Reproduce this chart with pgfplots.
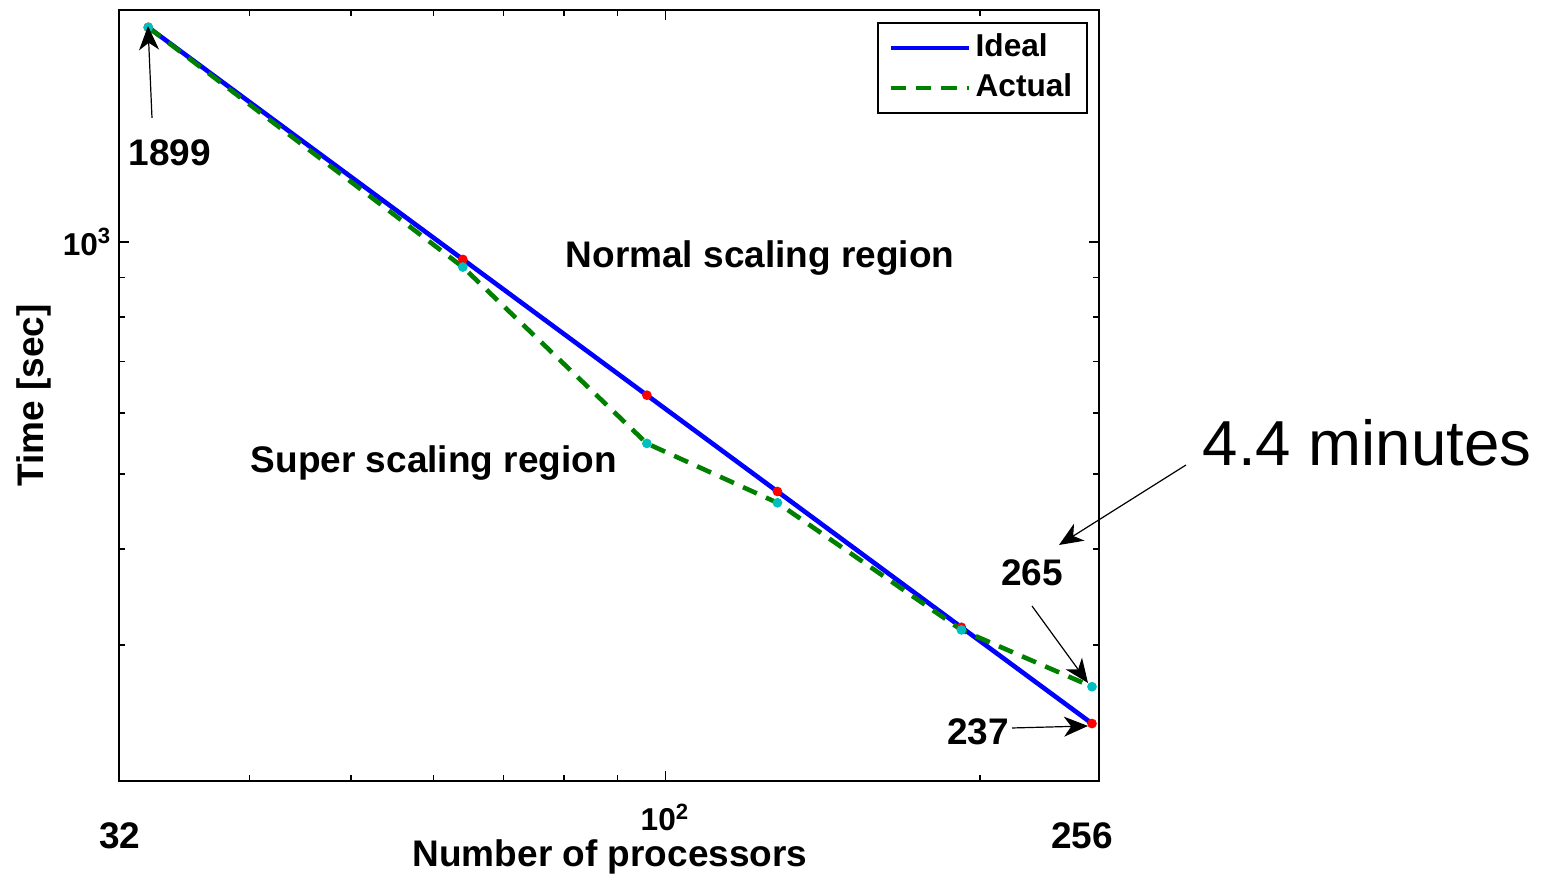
\documentclass[border=0pt]{standalone}
\usepackage{fontspec}
\setmainfont{Liberation Sans}
\usepackage{pgfplots}
\pgfplotsset{compat=1.18}
\usetikzlibrary{arrows.meta}
\definecolor{mblue}{RGB}{0,0,255}
\definecolor{mgreen}{RGB}{0,128,0}
\definecolor{mred}{RGB}{255,0,0}
\definecolor{mcyan}{RGB}{0,191,191}
\newcommand{\annfont}{\bfseries\fontsize{9.25}{11}\selectfont}
\newcommand{\axfont}{\bfseries\fontsize{7.9}{9}\selectfont}
\begin{document}
\begin{tikzpicture}
\useasboundingbox (-29.75pt,-25.75pt) rectangle (355.75pt,195.25pt);
\begin{axis}[
  at={(0,0)}, anchor=south west,
  scale only axis,
  width=245pt, height=192.75pt,
  xmode=log, ymode=log,
  xmin=30, xmax=260, ymin=200, ymax=2000,
  axis line style={line width=0.5pt},
  xtick={100}, xticklabels={10\textsuperscript{2}},
  ytick={1000}, yticklabels={10\textsuperscript{3}},
  minor xtick={40,50,60,70,80,90,200},
  minor ytick={300,400,500,600,700,800,900},
  tick align=inside, xtick pos=both, ytick pos=both,
  xticklabel pos=bottom, yticklabel pos=left,
  major tick length=2.5pt, minor tick length=1.6pt,
  every tick/.style={black, line width=0.4pt},
  ticklabel style={font=\axfont},
  xticklabel style={anchor=base, yshift=-12.5pt},
  yticklabel style={anchor=east, inner xsep=1.5pt},
  clip=false,
  legend style={at={(0.9888,0.9844)}, anchor=north east, draw=black,
    line width=0.5pt, font=\axfont, inner xsep=2.6pt, inner ysep=0.4pt,
    row sep=-1.6pt,
    nodes={inner xsep=1.1pt, inner ysep=2.2pt}},
  legend cell align=left,
  legend image code/.code={\draw[#1] (0pt,0pt) -- (19.5pt,0pt);},
]
\addplot[mblue, line width=1.15pt] coordinates {
  (32,1899) (64,949.5) (96,633) (128,474.75) (192,316.5) (256,237.4)};
\addlegendentry{Ideal}
\addplot[mgreen, line width=1.15pt, dash pattern=on 3.8pt off 2.5pt] coordinates {
  (32,1899) (64,928) (96,548) (128,459) (192,314) (256,265)};
\addlegendentry{Actual}
\addplot[only marks, mark=*, mark size=1pt, mred, forget plot] coordinates {
  (32,1899) (64,949.5) (96,633) (128,474.75) (192,316.5) (256,237.4)};
\addplot[only marks, mark=*, mark size=1pt, mcyan, forget plot] coordinates {
  (32,1899) (64,928) (96,548) (128,459) (192,314) (256,265)};
\end{axis}
\begin{scope}[x=0.25pt, y=-0.25pt, shift={(-29.75pt,195.25pt)}]
  \tikzset{ann/.style={-{Stealth[length=6pt,width=5pt,inset=1.8pt]}, line width=0.3pt, black}}
  \node[font=\annfont, anchor=base] at (170,166) {1899};
  \draw[ann] (152,118) -- (148,26);
  \node[font=\annfont, anchor=base west, inner sep=0pt] at (565,268) {Normal scaling region};
  \node[font=\annfont, anchor=base west, inner sep=0pt] at (250,473) {Super scaling region};
  \node[font=\annfont, anchor=base] at (1032,586) {265};
  \draw[ann] (1032,606) -- (1088,683);
  \node[font=\annfont, anchor=base] at (978,745) {237};
  \draw[ann] (1012,728) -- (1088,726);
  \node[font=\fontsize{15.9}{18}\selectfont, anchor=base west, inner sep=0pt] at (1202,466) {4.4 minutes};
  \draw[ann] (1186,465) -- (1059,545);
  \node[font=\annfont, anchor=base] at (120,849) {32};
  \node[font=\annfont, anchor=base] at (1082,849) {256};
  \node[font=\annfont, anchor=base] at (610,867) {Number of processors};
  \node[font=\annfont, anchor=base, rotate=90] at (43,395.5) {Time [sec]};
\end{scope}
\end{tikzpicture}
\end{document}
